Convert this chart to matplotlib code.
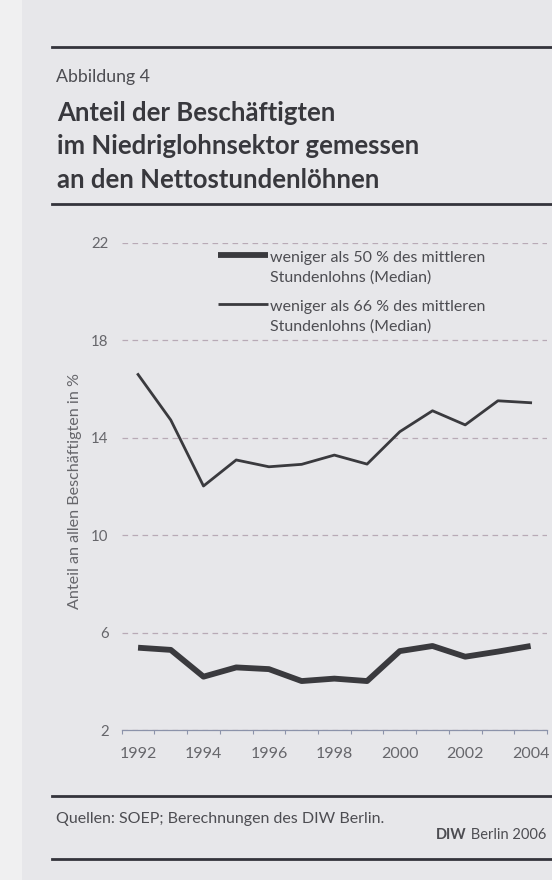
import numpy as np
import matplotlib.pyplot as plt
from matplotlib.lines import Line2D
from matplotlib.patches import Rectangle
from matplotlib.text import Annotation

plt.rcParams['font.family'] = ['Lato', 'DejaVu Sans']

# Daten
jahre = list(range(1992, 2005))
unter_50 = [5.38, 5.29, 4.19, 4.57, 4.50, 4.01, 4.11, 4.01, 5.24, 5.45, 5.01, 5.22, 5.45]
unter_66 = [16.6, 14.73, 12.02, 13.09, 12.81, 12.91, 13.29, 12.92, 14.25, 15.11, 14.53, 15.52, 15.44]
y_ticks = [2, 6, 10, 14, 18, 22]
x_labels = [1992, 1994, 1996, 1998, 2000, 2002, 2004]
legende = [['weniger als 50 % des mittleren', 'Stundenlohns (Median)'],
           ['weniger als 66 % des mittleren', 'Stundenlohns (Median)']]

W, H = 552, 880
fig = plt.figure(figsize=(W/100, H/100), dpi=100)
fig.patch.set_facecolor('#e7e7ea')
fig.add_artist(Rectangle((0, 0), 22/W, 1, transform=fig.transFigure,
                         color='#f0f0f1', lw=0, zorder=0))

def fy(y):  # pixel von oben -> figure fraction
    return 1 - y/H

def regel(y):
    fig.add_artist(Line2D([51.7/W, 1], [fy(y), fy(y)], transform=fig.transFigure,
                          lw=2.0, color='#34343c'))

textfarbe = '#4d4d52'
linienfarbe = '#3a3a3e'

# Kopf
regel(46.7)
fig.text(56/W, fy(81.7), 'Abbildung 4', fontsize=12.8, color=textfarbe, va='baseline')
titel = ['Anteil der Beschäftigten', 'im Niedriglohnsektor gemessen', 'an den Nettostundenlöhnen']
for i, zeile in enumerate(titel):
    fig.text(57/W, fy(120.7 + i*33.7), zeile, fontsize=18.5, fontweight='bold',
             color='#38383d', va='baseline')
regel(204)

# Diagramm
ax = fig.add_axes([121.7/W, fy(730), 425.3/W, 487/H])
ax.set_facecolor('none')
ax.plot(jahre, unter_50, color=linienfarbe, lw=4.2, solid_joinstyle='round', solid_capstyle='butt')
ax.plot(jahre, unter_66, color=linienfarbe, lw=2.0, solid_joinstyle='round')
ax.set_xlim(1991.5, 2004.5)
ax.set_ylim(2, 22)
ax.set_yticks(y_ticks)
ax.set_xticks(x_labels)
ax.set_xticks(np.arange(1991.5, 2005, 1), minor=True)
ax.yaxis.grid(True, ls=(0, (4.5, 3.5)), color='#b8aab6', lw=0.9)
for s in ['top', 'right', 'left']:
    ax.spines[s].set_visible(False)
ax.spines['bottom'].set_color('#8c93aa')
ax.spines['bottom'].set_linewidth(0.9)
ax.tick_params(axis='y', length=0, pad=9.5, labelsize=10.8, labelcolor='#66666b')
ax.tick_params(axis='x', which='major', length=0, pad=12.5, labelsize=11.5, labelcolor='#66666b')
ax.tick_params(axis='x', which='minor', length=3, width=0.8, color='#8c93aa', direction='out')

# Legende: Linienmuster auf Höhe der ersten Textzeile
for (zeile1, zeile2), lw, y in zip(legende, [4.2, 2.0], [255, 304]):
    fig.add_artist(Line2D([218/W, 268/W], [fy(y), fy(y)], transform=fig.transFigure,
                          lw=lw, color=linienfarbe, solid_capstyle='butt'))
    fig.text(270/W, fy(y + 7), zeile1, fontsize=11.5, color=textfarbe, va='baseline')
    fig.text(270/W, fy(y + 27), zeile2, fontsize=11.5, color=textfarbe, va='baseline')

fig.text(75/W, fy(491), 'Anteil an allen Beschäftigten in %', rotation=90,
         ha='center', va='center', fontsize=11.6, color='#66666b')

# Fuss
regel(796)
fig.text(56/W, fy(822.7), 'Quellen: SOEP; Berechnungen des DIW Berlin.', fontsize=11.5,
         color=textfarbe, va='baseline')
diw = fig.text(436/W, fy(839.3), 'DIW', fontsize=10.5, fontweight='bold',
               color=textfarbe, va='baseline')
fig.add_artist(Annotation(' Berlin 2006', xy=(1, 0), xycoords=diw, va='bottom',
                          fontsize=10.5, color=textfarbe))
regel(859)

fig.savefig('out.png', dpi=100, facecolor=fig.get_facecolor())
